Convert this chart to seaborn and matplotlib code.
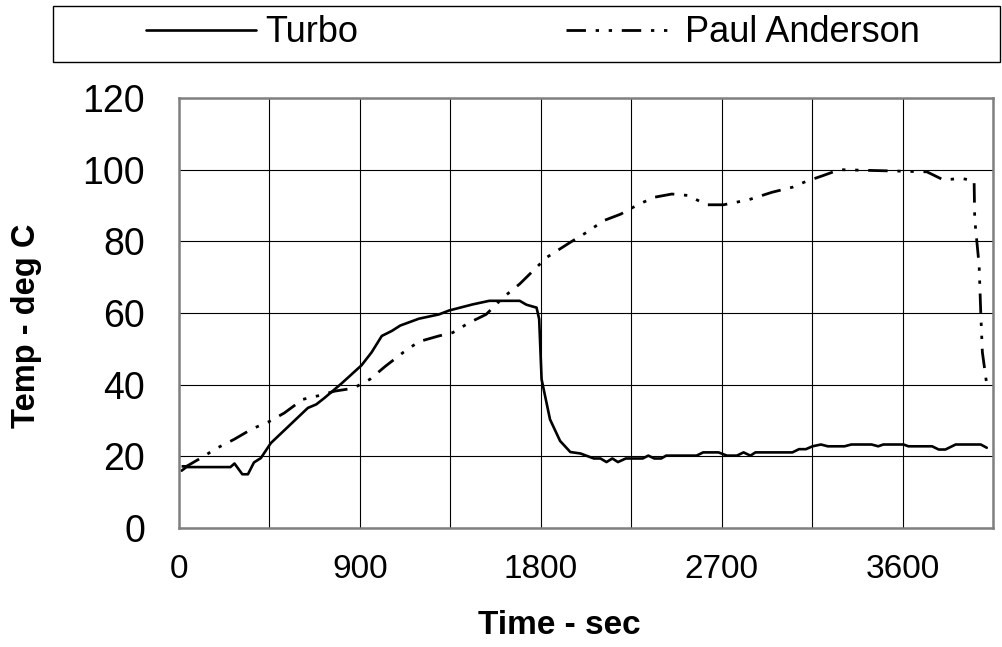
import matplotlib
matplotlib.use("Agg")
import matplotlib.pyplot as plt
import seaborn as sns
import pandas as pd
from matplotlib.patches import Rectangle

# Data
turbo_t = [13, 37, 120, 256, 276, 315, 343, 373, 407, 457, 641, 683, 724, 808, 908,
           958, 1009, 1059, 1101, 1193, 1293, 1344, 1461, 1544, 1695, 1729, 1779, 1792,
           1804, 1846, 1896, 1947, 1997, 2064, 2097, 2127, 2156, 2184, 2223, 2307, 2335,
           2365, 2399, 2424, 2575, 2608, 2684, 2726, 2776, 2809, 2843, 2868, 3052, 3085,
           3119, 3152, 3194, 3228, 3311, 3345, 3446, 3479, 3504, 3605, 3629, 3747, 3780,
           3813, 3864, 3989, 4019]
turbo_temp = [16, 17, 17, 17, 18, 15, 15, 18.3, 19.5, 23.7, 33.5, 34.5, 36.3, 40.3, 45.4,
              49, 53.6, 55, 56.5, 58.4, 59.6, 60.7, 62.4, 63.4, 63.4, 62.3, 61.5, 58.3,
              41.5, 30.3, 24.3, 21.2, 20.8, 19.4, 19.4, 18.4, 19.4, 18.4, 19.4, 19.4, 20.2,
              19.4, 19.4, 20.2, 20.2, 21.1, 21.1, 20.2, 20.2, 21.1, 20.2, 21.1, 21.1, 22.0,
              22.0, 22.8, 23.3, 22.8, 22.8, 23.3, 23.3, 22.8, 23.3, 23.3, 22.8, 22.8, 21.9,
              21.9, 23.3, 23.3, 22.4]

pa_t = [13, 37, 105, 189, 273, 365, 445, 524, 616, 700, 775, 867, 950, 1026, 1118, 1193,
        1293, 1361, 1444, 1528, 1612, 1695, 1762, 1829, 1946, 2022, 2114, 2198, 2282, 2365,
        2452, 2533, 2625, 2709, 2834, 2951, 3052, 3119, 3202, 3286, 3721, 3805, 3889, 3956,
        3959, 3981, 3989, 3997, 4019]
pa_temp = [17.2, 17.2, 19.4, 22.3, 24.7, 27.7, 29.6, 32.1, 35.9, 37, 38.2, 39, 41.5, 45.1,
           49.1, 52, 53.6, 54.5, 57.3, 59.6, 64.3, 68.1, 71.8, 75.5, 79.7, 82.3, 85.8, 87.6,
           90.2, 92.3, 93.2, 92.8, 90.2, 90.2, 91.6, 93.7, 95.1, 96.7, 98.3, 100, 99.4, 97.1,
           97.6, 96.9, 86.2, 73.3, 60.2, 49.1, 40]

x_ticks = list(range(0, 4051, 450))
x_labels = [str(t) if t % 900 == 0 and t < 4050 else "" for t in x_ticks]
y_ticks = list(range(0, 121, 20))

sns.set_style("white")
plt.rcParams['font.family'] = ['Liberation Sans', 'DejaVu Sans']
plt.rcParams['text.color'] = 'black'

fig = plt.figure(figsize=(10.03, 6.47), dpi=100)
ax = fig.add_axes([179 / 1003, 1 - 528 / 647, (993 - 179) / 1003, (528 - 98) / 647])

turbo = pd.DataFrame({"t": turbo_t, "temp": turbo_temp})
pa = pd.DataFrame({"t": pa_t, "temp": pa_temp})

sns.lineplot(data=turbo, x="t", y="temp", ax=ax, color="black", lw=1.9,
             estimator=None, sort=False, label="Turbo")
sns.lineplot(data=pa, x="t", y="temp", ax=ax, color="black", lw=2.0,
             estimator=None, sort=False, label="Paul Anderson",
             linestyle=(0, (7, 3.5, 1.2, 3.5, 1.2, 3.5)))

ax.set_xlim(0, 4050)
ax.set_ylim(0, 120)
ax.set_xticks(x_ticks)
ax.set_xticklabels(x_labels)
ax.set_yticks(y_ticks)
ax.grid(True, color="black", lw=0.8)
ax.tick_params(axis="both", direction="out", length=7, width=0.8, color="black",
               labelcolor="black")
ax.tick_params(axis="x", labelsize=24, pad=12)
ax.tick_params(axis="y", labelsize=27, pad=17.5)
for s in ax.spines.values():
    s.set_color("#808080")
    s.set_linewidth(1.8)

ax.set_xlabel("Time - sec", fontsize=24, fontweight="bold", color="black")
ax.set_ylabel("Temp - deg C", fontsize=23.5, fontweight="bold", color="black")
ax.xaxis.set_label_coords(0.467, -0.191)
ax.yaxis.set_label_coords(-0.168, 0.47)

# legend box at top
ax.get_legend().remove()
fig.patches.append(Rectangle((53 / 1003, 1 - 62 / 647), (1000 - 53) / 1003, 56 / 647,
                             transform=fig.transFigure, fill=False,
                             edgecolor="black", lw=1.0))
handles, labels = ax.get_legend_handles_labels()
fig.legend(handles, labels, loc="center", bbox_to_anchor=(533 / 1003, 1 - 33 / 647),
           ncol=2, frameon=False, fontsize=26, handlelength=3.05,
           columnspacing=5.75, handletextpad=0.25)

fig.savefig("out.png", dpi=100)
